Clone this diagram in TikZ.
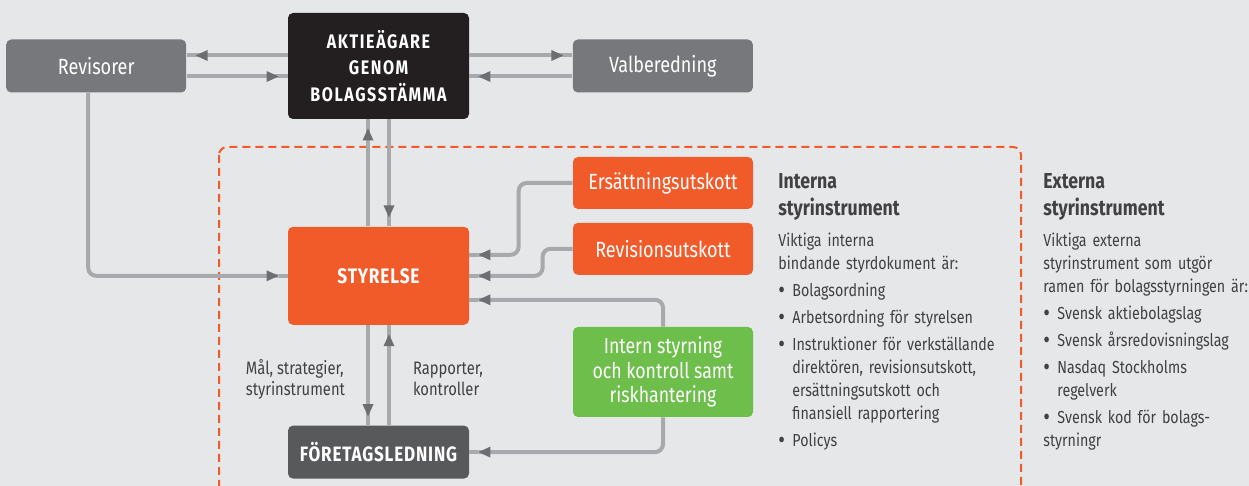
\documentclass[tikz,border=0pt]{standalone}
\usepackage{fontspec}
\setmainfont{Fira Sans}[FakeStretch=0.82]
\newfontfamily\capsfont{Fira Sans}[FakeStretch=0.82, LetterSpace=4]
\usetikzlibrary{arrows.meta,positioning}
\definecolor{bggrey}{HTML}{E6E7E8}
\definecolor{revgrey}{HTML}{77787B}
\definecolor{ownerblack}{HTML}{231F20}
\definecolor{boardorange}{HTML}{F15A29}
\definecolor{mgmtgrey}{HTML}{58595B}
\definecolor{controlgreen}{HTML}{6DBE4B}
\definecolor{linegrey}{HTML}{A7A9AC}
\definecolor{tipgrey}{HTML}{6D6E71}
\definecolor{textgrey}{HTML}{414042}
\newcommand{\bitem}[1]{\par\vspace{2pt}\hangindent=7pt\hangafter=1\noindent
  \makebox[7pt][l]{\fontsize{12.5}{12}\selectfont\raisebox{-0.9pt}{\textbullet}}#1}
\tikzstyle{block} = [rectangle, rounded corners=2.5pt, inner sep=0pt,
    text=white, align=center]
\tikzstyle{greyblock} = [block, fill=revgrey, minimum width=90pt,
    minimum height=26.5pt, font=\fontsize{11}{13}\selectfont]
\tikzstyle{topblock} = [block, fill=ownerblack, minimum width=90.5pt,
    minimum height=53pt,
    font=\capsfont\bfseries\addfontfeatures{LetterSpace=8}\fontsize{9.8}{13.3}\selectfont]
\tikzstyle{boardblock} = [block, fill=boardorange, minimum width=90.5pt,
    minimum height=49pt, font=\capsfont\bfseries\fontsize{10.5}{12}\selectfont]
\tikzstyle{mgmtblock} = [block, fill=mgmtgrey, minimum width=90.5pt,
    minimum height=26.5pt, font=\capsfont\bfseries\fontsize{10.4}{12}\selectfont]
\tikzstyle{committee} = [block, fill=boardorange, minimum width=90pt,
    minimum height=26pt, font=\fontsize{11}{13}\selectfont]
\tikzstyle{controlblock} = [block, fill=controlgreen, minimum width=90pt,
    minimum height=45pt, font=\fontsize{10.8}{12.1}\selectfont]
\tikzstyle{note} = [text=textgrey, align=left, inner sep=0pt,
    font=\fontsize{9}{10.5}\selectfont]
\tikzstyle{heading} = [text=textgrey, align=left, inner sep=0pt,
    anchor=north west, font=\bfseries\fontsize{10.8}{13.5}\selectfont]
\tikzstyle{body} = [text=textgrey, align=left, inner sep=0pt,
    text width=118pt, font=\fontsize{8.7}{11.5}\selectfont]
\tikzstyle{link} = [draw=linegrey, line width=2pt, rounded corners=4pt,
    -{Triangle[length=6pt,width=5.5pt,sep=0pt,color=tipgrey,line width=0pt]
      Rectangle[length=4.5pt,width=2pt,color=linegrey,line width=0pt]}]
\tikzstyle{dashframe} = [draw=boardorange, line width=1pt,
    dash pattern=on 4pt off 2.5pt, rounded corners=4pt]

\begin{document}
\begin{tikzpicture}[x=0.5pt, y=-0.5pt]
    \fill [bggrey] (0,0) rectangle (1249,486);
    \useasboundingbox (0,0) rectangle (1249,486);
    % dashed frame round the company, open at the bottom
    \begin{scope}
        \clip (0,0) rectangle (1249,486);
        \draw [dashframe] (219,147) rectangle (1021,540);
    \end{scope}

    % We start by placing the blocks
    \node [topblock] (agare) at (378.5,66) {AKTIEÄGARE\\GENOM\\BOLAGSSTÄMMA};
    \node [greyblock, left=50.5pt of agare] (revisorer) {Revisorer};
    \node [greyblock, right=51.5pt of agare] (valberedning) {Valberedning};
    \node [boardblock, below=53.5pt of agare] (styrelse) {STYRELSE};
    \node [mgmtblock, below=50pt of styrelse] (ledning) {FÖRETAGSLEDNING};
    \node [committee] (ersattning) at (663,183) {Ersättningsutskott};
    \node [committee, below=6.5pt of ersattning] (revision) {Revisionsutskott};
    \node [controlblock] (kontroll) at (663,372)
        {Intern styrning\\och kontroll samt\\riskhantering};

    % Once the blocks are placed, the connectors follow
    \draw [link] ([yshift=5.25pt]agare.west) -- ([yshift=5.25pt]revisorer.east);
    \draw [link] ([yshift=-5.25pt]revisorer.east) -- ([yshift=-5.25pt]agare.west);
    \draw [link] ([yshift=5.25pt]agare.east) -- ([yshift=5.25pt]valberedning.west);
    \draw [link] ([yshift=-5.25pt]valberedning.west) -- ([yshift=-5.25pt]agare.east);
    \draw [link] ([xshift=-5.25pt]styrelse.north) -- ([xshift=-5.25pt]agare.south);
    \draw [link] ([xshift=5.25pt]agare.south) -- ([xshift=5.25pt]styrelse.north);
    \draw [link] ([xshift=-5.25pt]styrelse.south) --
        node [note, left=10.5pt, yshift=-2pt] {Mål, strategier,\\styrinstrument}
        ([xshift=-5.25pt]ledning.north);
    \draw [link] ([xshift=5.25pt]ledning.north) --
        node [note, right=11pt, yshift=-2pt] {Rapporter,\\kontroller}
        ([xshift=5.25pt]styrelse.south);
    \draw [link] ([xshift=-4pt]revisorer.south) |- (styrelse.west);
    \draw [link] (ersattning.west) -- ++(-27pt,0) |- ([yshift=10.5pt]styrelse.east);
    \draw [link] (revision.west) -- ++(-15pt,0) |- (styrelse.east);
    \draw [link] (kontroll.north) |- ([yshift=-12pt]styrelse.east);
    \draw [link] (kontroll.south) |- (ledning.east);

    % the two text columns on the right
    \node [heading] (ihead) at (778,173) {Interna\\styrinstrument};
    \node [body, below=6pt of ihead.south west, anchor=north west] (ibody)
        {Viktiga interna\\bindande styrdokument är:
        \bitem{Bolagsordning}
        \bitem{Arbetsordning för styrelsen}
        \bitem{Instruktioner för verkställande\newline direktören, revisionsutskott,\newline
          ersättningsutskott och\newline finansiell rapportering}
        \bitem{Policys}};
    \node [heading] (ehead) at (1043,173) {Externa\\styrinstrument};
    \node [body, below=6pt of ehead.south west, anchor=north west] (ebody)
        {Viktiga externa\\styrinstrument som utgör\\ramen för bolagsstyrningen är:
        \bitem{Svensk aktiebolagslag}
        \bitem{Svensk årsredovisningslag}
        \bitem{Nasdaq Stockholms\newline regelverk}
        \bitem{Svensk kod för bolags-\newline styrningr}};
\end{tikzpicture}
\end{document}
